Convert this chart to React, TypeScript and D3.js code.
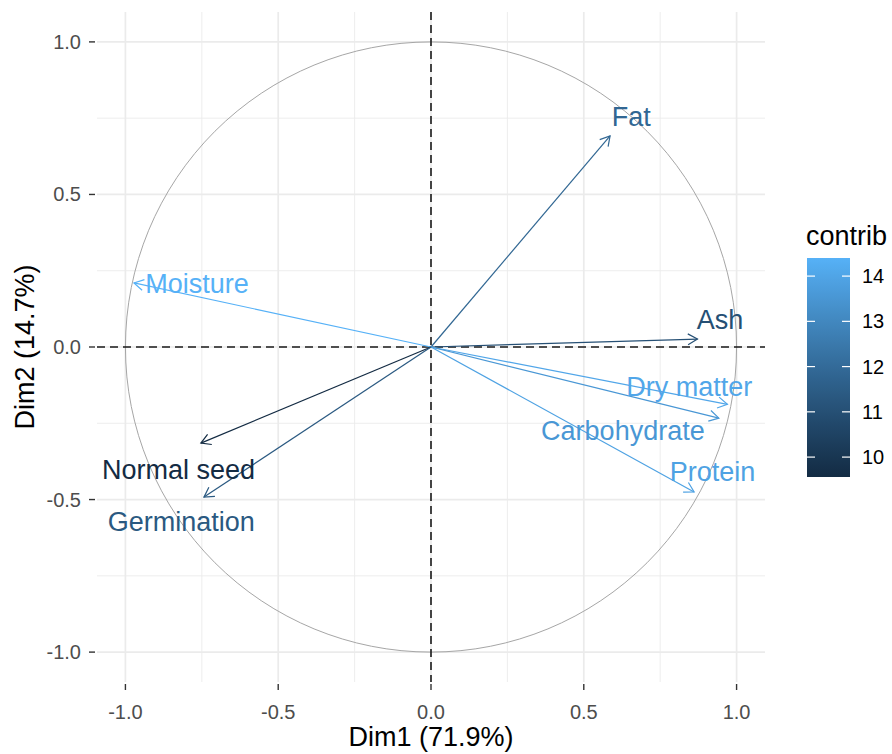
import React from "react";
import * as d3 from "d3";

// Variable coordinates on the first two principal dimensions
const variables = ["Fat", "Ash", "Dry matter", "Carbohydrate", "Protein", "Moisture", "Normal seed", "Germination"];
const dim1 = [0.586, 0.872, 0.970, 0.942, 0.861, -0.972, -0.753, -0.743];
const dim2 = [0.692, 0.026, -0.188, -0.233, -0.475, 0.210, -0.315, -0.492];
const contrib = [11.85, 11.0, 14.05, 13.55, 13.9, 14.4, 9.56, 11.35];

// Label anchors (data units)
const labelX = [0.655, 0.946, 0.845, 0.628, 0.921, -0.766, -0.826, -0.817];
const labelY = [0.757, 0.092, -0.128, -0.272, -0.407, 0.210, -0.400, -0.570];

const axisTicks = [-1.0, -0.5, 0.0, 0.5, 1.0];
const minorTicks = [-0.75, -0.25, 0.25, 0.75];
const legendTicks = [10, 11, 12, 13, 14];

const FONT = "'Liberation Sans', Arial, sans-serif";

export default function App() {
  const W = 892;
  const H = 754;
  const left = 97, right = 765, top = 12, bottom = 682;

  const x = d3.scaleLinear().domain([-1.093, 1.093]).range([left, right]);
  const y = d3.scaleLinear().domain([-1.098, 1.098]).range([bottom, top]);

  const cExtent = d3.extent(contrib) as [number, number];
  const color = d3
    .scaleLinear<string>()
    .domain(cExtent)
    .range(["#132B43", "#56B1F7"])
    .interpolate(d3.interpolateLab);

  // legend bar
  const legX = 807, legW = 43, legTop = 258, legBottom = 477;
  const legScale = d3.scaleLinear().domain(cExtent).range([legBottom, legTop]);
  const stops = d3.range(0, 1.0001, 0.05);

  const arrowLen = 11;
  const arrowAng = Math.PI / 6;

  const circleR = x(1) - x(0);
  const circleRy = y(0) - y(1);

  return (
    <svg
      width={W}
      height={H}
      style={{ position: "absolute", left: 0, top: 0, background: "#fff" }}
      fontFamily={FONT}
    >
      <defs>
        <linearGradient id="contribGrad" x1="0" y1="1" x2="0" y2="0">
          {stops.map((t) => (
            <stop key={t} offset={t} stopColor={color(cExtent[0] + t * (cExtent[1] - cExtent[0]))} />
          ))}
        </linearGradient>
      </defs>
      <rect x={0} y={0} width={W} height={H} fill="#fff" />

      {/* minor grid */}
      <g stroke="#EBEBEB" strokeWidth={0.9}>
        {minorTicks.map((t) => (
          <line key={"mx" + t} x1={x(t)} x2={x(t)} y1={top} y2={bottom} />
        ))}
        {minorTicks.map((t) => (
          <line key={"my" + t} x1={left} x2={right} y1={y(t)} y2={y(t)} />
        ))}
      </g>
      {/* major grid */}
      <g stroke="#EBEBEB" strokeWidth={1.7}>
        {axisTicks.map((t) => (
          <line key={"gx" + t} x1={x(t)} x2={x(t)} y1={top} y2={bottom} />
        ))}
        {axisTicks.map((t) => (
          <line key={"gy" + t} x1={left} x2={right} y1={y(t)} y2={y(t)} />
        ))}
      </g>

      {/* correlation circle */}
      <ellipse cx={x(0)} cy={y(0)} rx={circleR} ry={circleRy} fill="none" stroke="#A6A6A6" strokeWidth={1} />

      {/* reference lines */}
      <g stroke="#1a1a1a" strokeWidth={1.6} strokeDasharray="8,5">
        <line x1={x(0)} x2={x(0)} y1={top} y2={bottom} />
        <line x1={left} x2={right} y1={y(0)} y2={y(0)} />
      </g>

      {/* arrows */}
      {variables.map((v, i) => {
        const x0 = x(0), y0 = y(0);
        const x1 = x(dim1[i]), y1 = y(dim2[i]);
        const ang = Math.atan2(y1 - y0, x1 - x0);
        const a1 = ang + Math.PI - arrowAng;
        const a2 = ang + Math.PI + arrowAng;
        const head = `M${x1 + arrowLen * Math.cos(a1)},${y1 + arrowLen * Math.sin(a1)}L${x1},${y1}L${x1 + arrowLen * Math.cos(a2)},${y1 + arrowLen * Math.sin(a2)}`;
        const c = color(contrib[i]);
        return (
          <g key={v} stroke={c} fill="none" strokeWidth={1.2}>
            <line x1={x0} y1={y0} x2={x1} y2={y1} />
            <path d={head} />
          </g>
        );
      })}

      {/* labels */}
      {variables.map((v, i) => (
        <text
          key={"l" + v}
          x={x(labelX[i])}
          y={y(labelY[i]) + 10}
          textAnchor="middle"
          fontSize={27}
          fill={color(contrib[i])}
        >
          {v}
        </text>
      ))}

      {/* y axis */}
      {axisTicks.map((t) => (
        <g key={"yt" + t}>
          <line x1={89} x2={95} y1={y(t)} y2={y(t)} stroke="#333" strokeWidth={1.4} />
          <text x={81} y={y(t) + 7} textAnchor="end" fontSize={20} fill="#4D4D4D">
            {t.toFixed(1)}
          </text>
        </g>
      ))}
      {/* x axis */}
      {axisTicks.map((t) => (
        <g key={"xt" + t}>
          <line x1={x(t)} x2={x(t)} y1={684} y2={690} stroke="#333" strokeWidth={1.4} />
          <text x={x(t)} y={719} textAnchor="middle" fontSize={20} fill="#4D4D4D">
            {t.toFixed(1)}
          </text>
        </g>
      ))}

      <text x={x(0)} y={746} textAnchor="middle" fontSize={27} fill="#000">
        Dim1 (71.9%)
      </text>
      <text
        transform={`translate(34, ${y(0)}) rotate(-90)`}
        textAnchor="middle"
        fontSize={27}
        fill="#000"
      >
        Dim2 (14.7%)
      </text>

      {/* legend */}
      <text x={806} y={245} fontSize={27} fill="#000">
        contrib
      </text>
      <rect x={legX} y={legTop} width={legW} height={legBottom - legTop} fill="url(#contribGrad)" />
      {legendTicks.map((t) => (
        <g key={"lg" + t}>
          <line x1={legX} x2={legX + 8} y1={legScale(t)} y2={legScale(t)} stroke="#fff" strokeWidth={1.2} />
          <line x1={legX + legW - 8} x2={legX + legW} y1={legScale(t)} y2={legScale(t)} stroke="#fff" strokeWidth={1.2} />
          <text x={862} y={legScale(t) + 7} fontSize={20} fill="#000">
            {t}
          </text>
        </g>
      ))}
    </svg>
  );
}
